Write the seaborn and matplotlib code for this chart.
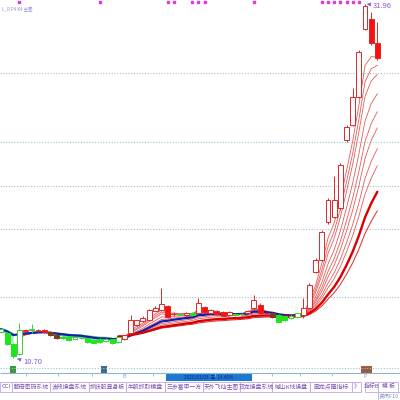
import matplotlib
matplotlib.use("Agg")
import matplotlib.pyplot as plt
import numpy as np
import pandas as pd
import seaborn as sns
from matplotlib.patches import Rectangle

sns.set_style("white")
plt.rcParams["font.family"] = ["Noto Sans CJK SC", "DejaVu Sans"]

# daily candles
opens = [12.26, 12.20, 11.55, 10.95, 12.30, 12.40, 12.30, 12.40, 12.28, 12.08,
         11.95, 11.96, 11.84, 11.90, 11.90, 11.78, 11.84, 11.70, 11.84, 11.64,
         11.84, 12.20, 12.68, 12.90, 12.98, 13.55, 13.58, 13.82, 13.35, 13.30,
         13.28, 13.40, 13.40, 13.76, 13.40, 13.52, 13.46, 13.30, 13.36, 13.32,
         13.40, 13.70, 13.88, 13.40, 13.40, 13.28, 13.22, 13.10, 13.15, 13.28,
         13.70, 15.87, 16.59, 18.87, 19.17, 19.71, 23.79, 24.69, 26.38, 30.46,
         31.06, 29.62]
highs = [12.50, 12.26, 11.60, 12.80, 12.45, 12.72, 12.44, 12.45, 12.32, 12.12,
         12.00, 12.00, 11.99, 11.96, 11.92, 11.82, 11.88, 11.88, 11.86, 11.98,
         12.10, 13.28, 13.00, 13.20, 13.64, 13.80, 14.90, 13.90, 13.45, 13.40,
         13.45, 13.45, 14.30, 13.85, 13.62, 13.56, 13.50, 13.50, 13.42, 13.40,
         13.60, 14.48, 14.00, 13.48, 13.45, 13.32, 13.25, 13.32, 13.42, 14.30,
         15.20, 16.70, 18.40, 20.31, 21.63, 22.41, 24.69, 26.92, 29.20, 31.96,
         31.48, 30.90]
lows = [12.20, 11.50, 10.70, 10.88, 12.25, 12.22, 12.25, 12.22, 12.05, 11.86,
        11.85, 11.75, 11.80, 11.84, 11.62, 11.58, 11.60, 11.66, 11.55, 11.60,
        11.80, 12.15, 12.62, 12.85, 12.95, 13.50, 13.55, 13.10, 13.25, 13.20,
        13.22, 13.25, 13.36, 13.40, 13.35, 13.30, 13.20, 13.25, 13.25, 13.26,
        13.35, 13.64, 13.36, 13.30, 13.10, 12.84, 12.95, 13.05, 13.10, 13.10,
        13.65, 15.80, 16.50, 18.75, 19.11, 19.59, 23.67, 24.63, 26.32, 30.40,
        29.50, 28.60]
closes = [12.44, 11.55, 10.85, 12.40, 12.38, 12.42, 12.40, 12.28, 12.08, 11.90,
          11.90, 11.78, 11.96, 11.91, 11.66, 11.62, 11.66, 11.84, 11.60, 11.96,
          12.08, 12.98, 12.98, 13.10, 13.58, 13.70, 13.94, 13.16, 13.36, 13.31,
          13.40, 13.30, 14.00, 13.46, 13.58, 13.34, 13.22, 13.46, 13.30, 13.36,
          13.50, 14.18, 13.40, 13.38, 13.16, 12.86, 12.98, 13.20, 13.38, 13.70,
          15.08, 16.59, 18.27, 20.19, 20.19, 22.29, 24.57, 26.38, 29.08, 31.84,
          29.62, 28.72]
# colour given by the indicator: r red, g green, b brown
trend = list("ggggrgrrbbggggggggggrrrrrrrrrgrgrrrrrrggrrrrbggggrrrrrrrrrrrrr")

signal_idx = [3, 16, 27, 28, 31, 32, 33, 41, 52, 53, 54, 55, 56, 57, 58]
grid_levels = [27.82, 23.67, 21.03, 18.45, 14.36]
fan_spans = [4, 5, 6, 8, 10, 12, 15, 18]
hi_price, lo_price = 31.96, 10.70

tabs = ["CCI", "翻倍密码系统", "波段操盘系统", "抓妖股显身板", "牛股抓取模盘", "三步富甲一方",
        "天外飞仙主图", "双龙操盘系统", "喊山K线操盘", "画龙点睛指标", "》", "", "指标B", "模 板"]
tab_edges = [0, 12, 50, 89, 126, 165, 203, 240, 272, 310, 352, 361, 365, 378, 398]

RED = "#e02828"
RED_FILL = "#ff0d0d"
GREEN = "#1ee61e"
GREEN_EDGE = "#3ccf3c"
BROWN = "#7a3c12"
FAN = "#e45a5a"

df = pd.DataFrame({"open": opens, "high": highs, "low": lows, "close": closes, "trend": trend})
df["i"] = np.arange(len(df))

fig = plt.figure(figsize=(4, 4), dpi=100)
ax = fig.add_axes([0, 28 / 400, 1, 372 / 400])
ax.set_xlim(-0.16, 64.67)
ax.set_ylim(9.86, 32.20)
ax.axis("off")

ax.hlines(grid_levels, -0.2, 64.7, colors="#9cc3d8", linestyles=(0, (1, 1.5)), lw=0.8, zorder=0)

# indicator lines (moving averages of the closes above)
fan = {s: df["close"].ewm(span=s, adjust=False).mean() for s in fan_spans}
is_red = df["trend"].eq("r")
red_mask = is_red | is_red.shift(-1, fill_value=False)
for s, vals in fan.items():
    ax.plot(df["i"], vals.where(~red_mask), color="#6ad86a", lw=0.5, zorder=1)
    ax.plot(df["i"], vals.where(red_mask), color=FAN, lw=0.6, zorder=1)

blue = df["close"].ewm(span=12, adjust=False).mean()
slow = df["close"].ewm(span=24, adjust=False).mean()
slower = df["close"].ewm(span=30, adjust=False).mean()
sns.lineplot(x=df["i"][:50], y=blue[:50], ax=ax, color="#1020b0", lw=1.6, zorder=2)
sns.lineplot(x=df["i"][19:], y=slower[19:], ax=ax, color=RED, lw=0.7, zorder=2)
sns.lineplot(x=df["i"][19:], y=slow[19:], ax=ax, color="#d80000", lw=1.7, zorder=2)

# candles
for _, r in df.iterrows():
    up = r["close"] >= r["open"]
    if r["trend"] == "r":
        edge = RED
        face = "white" if up else RED_FILL
    elif r["trend"] == "g":
        edge = GREEN_EDGE if up else GREEN
        face = "white" if up else GREEN
    else:
        edge = face = BROWN
    ax.vlines(r["i"], r["low"], r["high"], color=edge, lw=0.7, zorder=3)
    bottom = min(r["open"], r["close"])
    height = max(abs(r["close"] - r["open"]), 0.02)
    ax.bar(r["i"], height, bottom=bottom, width=0.8, facecolor=face,
           edgecolor=edge, lw=0.7, zorder=4)

# signals along the top
ax.scatter(signal_idx, [32.05] * len(signal_idx), marker="s", s=3, color="#e03ce0", zorder=5)

ax.annotate(f"{hi_price:.2f}", xy=(59.3, hi_price), xytext=(60.2, 31.72), fontsize=5.5,
            color="#8a5ad0", arrowprops=dict(arrowstyle="-|>", color="#8a5ad0", lw=0.5))
ax.annotate(f"{lo_price:.2f}", xy=(2.6, lo_price - 0.05), xytext=(3.6, lo_price - 0.25), fontsize=5.5,
            color="#8a5ad0", va="center", arrowprops=dict(arrowstyle="-|>", color="#8a5ad0", lw=0.5))

fig.text(0.005, 0.985, "L_R P4 K4 主图", fontsize=3.2, color="#9a8ad8", va="top")

# bottom strip and tabs, drawn in pixel coords
deco = fig.add_axes([0, 0, 1, 1])
deco.set_xlim(0, 400)
deco.set_ylim(400, 0)
deco.axis("off")
deco.patch.set_alpha(0)
deco.hlines(368, 0, 400, colors="#9cc3d8", linestyles=(0, (1, 1.5)), lw=0.8)
deco.hlines(373, 0, 400, colors="#8fb8d0", lw=0.8)
deco.vlines([26, 58, 92, 153, 215, 272, 300, 332], 373, 376, colors="#8fb8d0", lw=0.6)
deco.add_patch(Rectangle((166, 373), 86, 8, color="#1e78d2", lw=0))
deco.text(209, 377.2, "2020/01/03  五  14.40%", fontsize=3.4, color="#0a2a80", ha="center", va="center")
deco.add_patch(Rectangle((10, 366), 6, 8, color="#3a9a3a", lw=0))
deco.add_patch(Rectangle((101, 366), 6, 8, color="#3f6c8c", lw=0))
deco.add_patch(Rectangle((361, 366), 11, 8, color="#9a5b3a", lw=0))
deco.text(124, 377, "B", fontsize=4, color="#7fa7d8", ha="center", va="center")
deco.text(365, 377, "P", fontsize=4, color="#7fa7d8", ha="center", va="center")
for label, x0, x1 in zip(tabs, tab_edges[:-1], tab_edges[1:]):
    if label == "":
        continue
    deco.add_patch(Rectangle((x0, 382), x1 - x0, 9.5, facecolor="white", edgecolor="#c0a8e0", lw=0.6))
    deco.text((x0 + x1) / 2, 386.8, label, fontsize=4.2, color="#7b4fb0", ha="center", va="center")
deco.add_patch(Rectangle((378, 391.5), 22, 8.5, facecolor="white", edgecolor="#c0a8e0", lw=0.6))
deco.text(389, 396, "资讯F10", fontsize=4, color="#7b8fc0", ha="center", va="center")

fig.savefig("out.png", dpi=100)
